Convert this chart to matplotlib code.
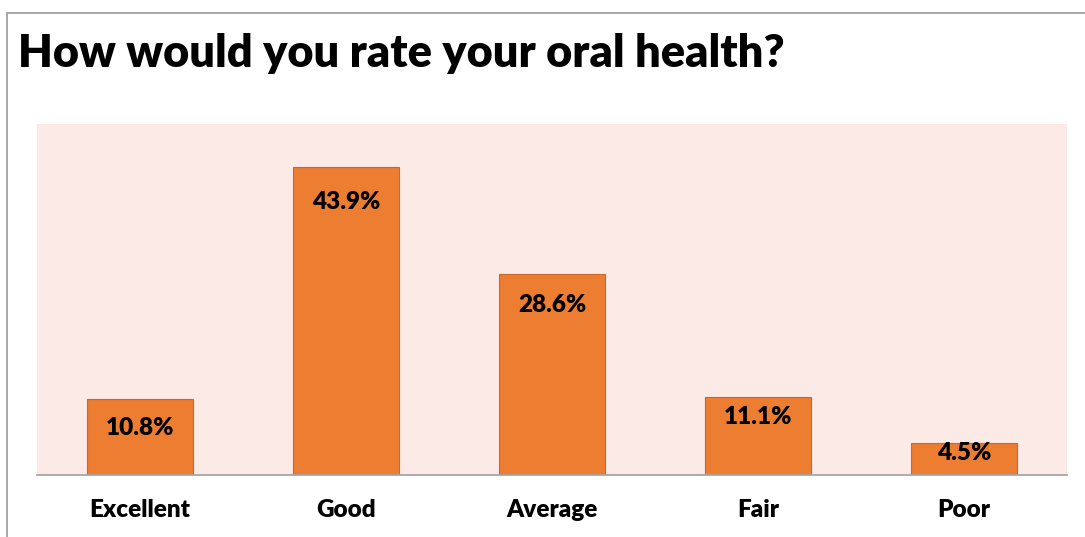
import matplotlib.pyplot as plt
from matplotlib.patches import Rectangle

categories = ['Excellent', 'Good', 'Average', 'Fair', 'Poor']
shares = [10.8, 43.9, 28.6, 11.1, 4.5]
title = 'How would you rate your oral health?'

# how far each value label sits below its bar top (points)
label_drop = [21, 25, 22, 14, 7]

plt.rcParams['font.family'] = ['Lato', 'DejaVu Sans']

fig = plt.figure(figsize=(10.85, 5.37), dpi=100)
W, H = 1085, 537

# thin frame around the chart (open at right and bottom)
fig.patches.append(Rectangle((7 / W, -0.1), 1.2, 1 - 12.5 / H + 0.1,
                             transform=fig.transFigure, fill=False,
                             edgecolor='#A0A0A0', linewidth=1.3))

ax = fig.add_axes([37 / W, 1 - 475 / H, 1030 / W, 351 / H])
ax.set_facecolor('#FBEAE6')

x = range(len(categories))
ax.bar(x, shares, width=0.515, color='#ED7D31', edgecolor='#C8682B',
       linewidth=0.8, zorder=2)

for xi, v, d in zip(x, shares, label_drop):
    ax.annotate(f'{v}%', (xi, v), xytext=(0, -d), textcoords='offset points',
                ha='center', va='center', fontsize=17.5, fontweight='heavy',
                color='black', zorder=3)

ax.set_xlim(-0.5, len(categories) - 0.5)
ax.set_ylim(0, 50)
ax.set_xticks(list(x))
ax.set_xticklabels(categories, fontsize=17.5, fontweight='heavy')
ax.tick_params(axis='x', length=0, pad=17)
ax.set_yticks([])
for s in ['top', 'right', 'left']:
    ax.spines[s].set_visible(False)
ax.spines['bottom'].set_color('#A6A6A6')
ax.spines['bottom'].set_linewidth(1.3)

fig.text(18 / W, 1 - 53 / H, title, fontsize=32.5, fontweight='heavy',
         ha='left', va='center', color='black')

fig.savefig('out.png', dpi=100)
